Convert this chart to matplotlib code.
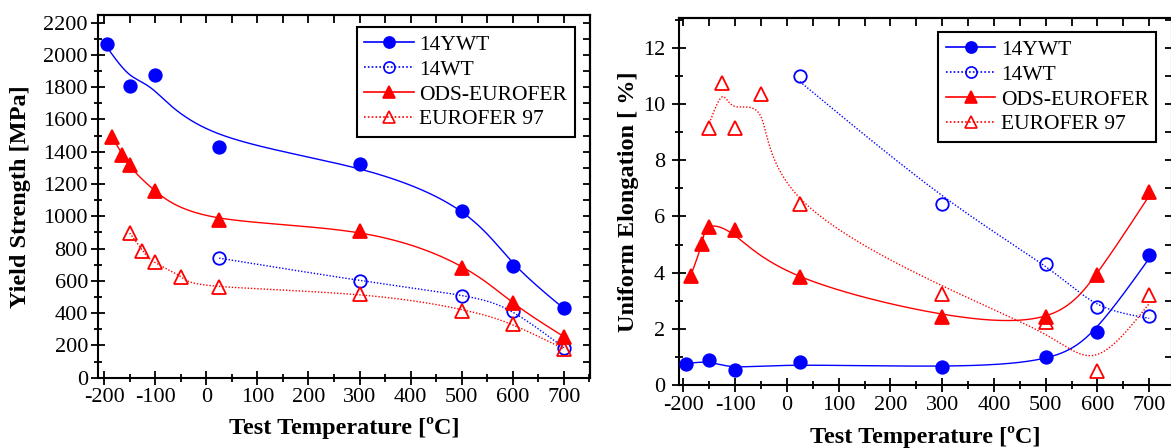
import matplotlib.pyplot as plt
import numpy as np
from matplotlib.lines import Line2D
from matplotlib.ticker import MultipleLocator

plt.rcParams['font.family'] = ['Liberation Serif', 'DejaVu Serif']
plt.rcParams['axes.unicode_minus'] = False

# --- Yield strength [MPa] vs test temperature [C] ---
ys_14ywt_t = [-195, -150, -100, 25, 300, 500, 600, 700]
ys_14ywt = [2068, 1808, 1875, 1432, 1325, 1035, 695, 434]
ys_14wt_t = [25, 300, 500, 600, 700]
ys_14wt = [742, 601, 506, 413, 182]
ys_ods_t = [-185, -165, -150, -100, 25, 300, 500, 600, 700]
ys_ods = [1493, 1380, 1318, 1159, 978, 910, 682, 465, 254]
ys_e97_t = [-150, -125, -100, -50, 25, 300, 500, 600, 700]
ys_e97 = [898, 785, 719, 622, 564, 519, 415, 333, 176]

# --- Uniform elongation [%] vs test temperature [C] ---
ue_14ywt_t = [-195, -150, -100, 25, 300, 500, 600, 700]
ue_14ywt = [0.73, 0.89, 0.53, 0.81, 0.65, 1.01, 1.90, 4.63]
ue_14wt_t = [25, 300, 500, 600, 700]
ue_14wt = [11.0, 6.44, 4.30, 2.79, 2.47]
ue_ods_t = [-185, -165, -150, -100, 25, 300, 500, 600, 700]
ue_ods = [3.89, 5.02, 5.61, 5.52, 3.83, 2.43, 2.41, 3.91, 6.86]
ue_e97_t = [-150, -125, -100, -50, 25, 300, 500, 600, 700]
ue_e97 = [9.13, 10.76, 9.13, 10.36, 6.44, 3.24, 2.23, 0.50, 3.20]

labels = ['14YWT', '14WT', 'ODS-EUROFER', 'EUROFER 97']
BLUE = '#0000ff'
RED = '#ff0000'
DOT = (0, (1, 1.3))


def spline(s, y, lam, ss):
    """Cubic smoothing spline (Reinsch) of y over knots s, evaluated at ss.
    lam=0 gives the interpolating natural spline."""
    y = np.asarray(y, float)
    m = len(s)
    h = np.diff(s)
    Q = np.zeros((m, m - 2))
    R = np.zeros((m - 2, m - 2))
    for j in range(1, m - 1):
        Q[j - 1, j - 1] = 1 / h[j - 1]
        Q[j, j - 1] = -1 / h[j - 1] - 1 / h[j]
        Q[j + 1, j - 1] = 1 / h[j]
        R[j - 1, j - 1] = (h[j - 1] + h[j]) / 3
        if j < m - 2:
            R[j - 1, j] = R[j, j - 1] = h[j] / 6
    gam = np.linalg.solve(R + lam * Q.T @ Q, Q.T @ y)
    g = y - lam * Q @ gam
    gam = np.concatenate([[0], gam, [0]])
    i = np.clip(np.searchsorted(s, ss) - 1, 0, m - 2)
    a, b, hi = ss - s[i], s[i + 1] - ss, h[i]
    return (a * g[i + 1] + b * g[i]) / hi - a * b / 6 * (
        (1 + a / hi) * gam[i + 1] + (1 + b / hi) * gam[i])


def smooth_curve(t, y, lam, n=600):
    # smooth over point order, then map back to temperature
    s = np.arange(len(t), dtype=float)
    ss = np.linspace(0, len(t) - 1, n)
    return spline(s, t, 0.0, ss), spline(s, y, lam, ss)


def style_axes(ax, xlim, ylim, ymaj, ymin, ypad):
    ax.set_xlim(*xlim)
    ax.set_ylim(*ylim)
    ax.xaxis.set_major_locator(MultipleLocator(100))
    ax.xaxis.set_minor_locator(MultipleLocator(50))
    ax.yaxis.set_major_locator(MultipleLocator(ymaj))
    ax.yaxis.set_minor_locator(MultipleLocator(ymin))
    ax.tick_params(which='major', direction='inout', length=9.5, width=1.3,
                   labelsize=16, top=False, right=False)
    ax.tick_params(which='minor', direction='inout', length=6, width=1.3,
                   top=False, right=False)
    ax.tick_params(axis='x', pad=3)
    ax.tick_params(axis='y', pad=ypad)
    for s in ax.spines.values():
        s.set_linewidth(1.5)
    top = ax.secondary_xaxis('top')
    top.set_xticks(np.arange(-200, 701, 50))
    top.tick_params(direction='in', length=6, width=1.3, labeltop=False)
    top.spines['top'].set_linewidth(1.5)
    right = ax.secondary_yaxis('right')
    right.set_yticks(np.arange(ylim[0], ylim[1], ymin))
    right.tick_params(direction='in', length=5, width=1.3, labelright=False)
    right.spines['right'].set_linewidth(1.5)


def draw(ax, series, lams):
    styles = [(BLUE, 'o', True, '-'), (BLUE, 'o', False, DOT),
              (RED, '^', True, '-'), (RED, '^', False, DOT)]
    for (t, y), lam, (c, mk, filled, ls) in zip(series, lams, styles):
        xx, yy = smooth_curve(t, y, lam)
        ax.plot(xx, yy, color=c, lw=1.0, ls=ls, zorder=2)
        ax.plot(t, y, ls='none', marker=mk, ms=9 if mk == 'o' else 10,
                color=c, mfc=c if filled else 'none', mew=1.3, zorder=3)
    handles = [Line2D([], [], color=c, ls=ls, lw=1.2, marker=mk,
                      ms=8 if mk == 'o' else 9, mfc=c if filled else 'none',
                      mew=1.2)
               for c, mk, filled, ls in styles]
    return handles


fig = plt.figure(figsize=(11.71, 4.48), dpi=100)
ax1 = fig.add_axes([98 / 1171, 1 - 377.7 / 448, 492 / 1171, 362.7 / 448])
ax2 = fig.add_axes([679.3 / 1171, 1 - 385 / 448, 492.7 / 1171, 366.7 / 448])

# Left: yield strength
h1 = draw(ax1, [(ys_14ywt_t, ys_14ywt), (ys_14wt_t, ys_14wt),
                (ys_ods_t, ys_ods), (ys_e97_t, ys_e97)],
          [0.1, 0.02, 0.02, 0.03])
style_axes(ax1, (-212, 751), (0, 2247), 200, 100, 2.5)
ax1.set_xlabel('Test Temperature [ºC]', fontsize=17.5, fontweight='bold', va='center')
ax1.xaxis.set_label_coords(0.5, -0.139)
ax1.set_ylabel('Yield Strength [MPa]', fontsize=17.5, fontweight='bold', va='center')
ax1.yaxis.set_label_coords(-0.157, 0.5)
ax1.legend(h1, labels, loc='upper left', bbox_to_anchor=(0.526, 0.966),
           borderaxespad=0, fontsize=15.5, frameon=True, fancybox=False,
           edgecolor='black', framealpha=1, handlelength=2.3,
           handletextpad=0.25, labelspacing=0.22, borderpad=0.35
           ).get_frame().set_linewidth(1.5)

# Right: uniform elongation
h2 = draw(ax2, [(ue_14ywt_t, ue_14ywt), (ue_14wt_t, ue_14wt),
                (ue_ods_t, ue_ods), (ue_e97_t, ue_e97)],
          [0.07, 0.1, 0.09, 0.08])
style_axes(ax2, (-208, 744), (0, 13.05), 2, 1, 5.5)
ax2.set_xlabel('Test Temperature [ºC]', fontsize=17.5, fontweight='bold', va='center')
ax2.xaxis.set_label_coords(0.5, -0.142)
ax2.set_ylabel('Uniform Elongation [ %]', fontsize=17.5, fontweight='bold', va='center')
ax2.yaxis.set_label_coords(-0.104, 0.5)
ax2.legend(h2, labels, loc='upper left', bbox_to_anchor=(0.5257, 0.9618),
           borderaxespad=0, fontsize=15.5, frameon=True, fancybox=False,
           edgecolor='black', framealpha=1, handlelength=2.3,
           handletextpad=0.25, labelspacing=0.22, borderpad=0.35
           ).get_frame().set_linewidth(1.5)

fig.savefig('out.png', dpi=100)
